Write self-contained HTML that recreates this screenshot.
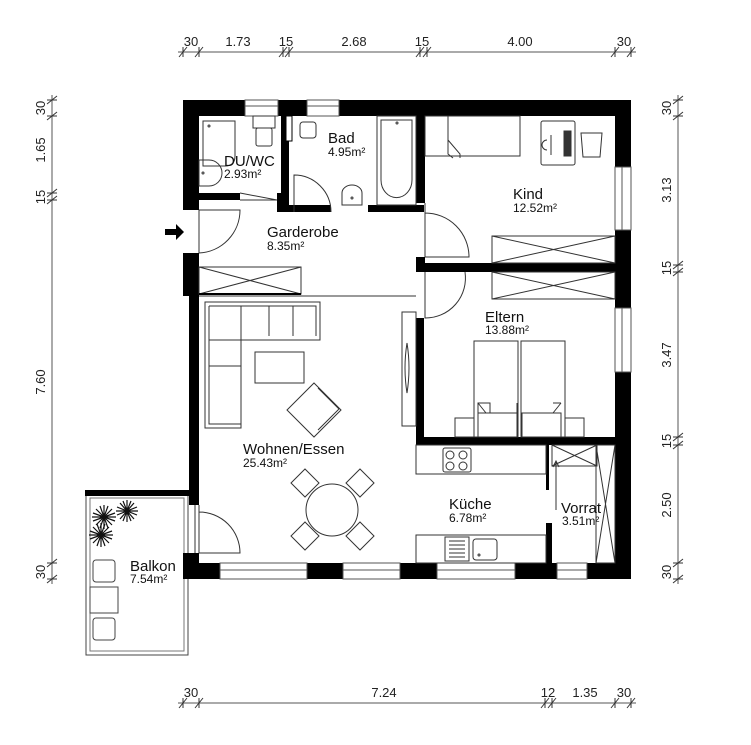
<!DOCTYPE html>
<html><head><meta charset="utf-8"><style>
html,body{margin:0;padding:0;background:#fff;}
svg{display:block;font-family:"Liberation Sans",sans-serif;}
</style></head><body>
<svg width="751" height="745" viewBox="0 0 751 745" xmlns="http://www.w3.org/2000/svg">
<rect width="751" height="745" fill="#fff"/>
<g stroke="#555" stroke-width="1" fill="none">
<line x1="178" y1="52" x2="636" y2="52"/>
<line x1="52" y1="95" x2="52" y2="584"/>
<line x1="678" y1="95" x2="678" y2="584"/>
<line x1="178" y1="703" x2="636" y2="703"/>
</g>
<g stroke="#333" stroke-width="1">
<path d="M179,57 l8,-10 M195,57 l8,-10 M279,57 l8,-10 M285,57 l8,-10 M416,57 l8,-10 M423,57 l8,-10 M611,57 l8,-10 M627,57 l8,-10"/>
<path d="M183,47 v10 M199,47 v10 M283,47 v10 M289,47 v10 M420,47 v10 M427,47 v10 M615,47 v10 M631,47 v10"/>
<path d="M179,708 l8,-10 M195,708 l8,-10 M541,708 l8,-10 M548,708 l8,-10 M611,708 l8,-10 M627,708 l8,-10"/>
<path d="M183,698 v10 M199,698 v10 M545,698 v10 M552,698 v10 M615,698 v10 M631,698 v10"/>
<path d="M47,104 l10,-8 M47,120 l10,-8 M47,197 l10,-8 M47,204 l10,-8 M47,567 l10,-8 M47,583 l10,-8"/>
<path d="M47,100 h10 M47,116 h10 M47,193 h10 M47,200 h10 M47,563 h10 M47,579 h10"/>
<path d="M673,104 l10,-8 M673,120 l10,-8 M673,269 l10,-8 M673,276 l10,-8 M673,441 l10,-8 M673,449 l10,-8 M673,567 l10,-8 M673,583 l10,-8"/>
<path d="M673,100 h10 M673,116 h10 M673,265 h10 M673,272 h10 M673,437 h10 M673,445 h10 M673,563 h10 M673,579 h10"/>
</g>
<g font-size="13" fill="#222" text-anchor="middle">
<text x="191" y="46">30</text><text x="238" y="46">1.73</text><text x="286" y="46">15</text><text x="354" y="46">2.68</text><text x="422" y="46">15</text><text x="520" y="46">4.00</text><text x="624" y="46">30</text>
<text x="191" y="697">30</text><text x="384" y="697">7.24</text><text x="548" y="697">12</text><text x="585" y="697">1.35</text><text x="624" y="697">30</text>
<text transform="translate(45,108) rotate(-90)">30</text>
<text transform="translate(45,150) rotate(-90)">1.65</text>
<text transform="translate(45,197) rotate(-90)">15</text>
<text transform="translate(45,382) rotate(-90)">7.60</text>
<text transform="translate(45,572) rotate(-90)">30</text>
<text transform="translate(671,108) rotate(-90)">30</text>
<text transform="translate(671,190) rotate(-90)">3.13</text>
<text transform="translate(671,268) rotate(-90)">15</text>
<text transform="translate(671,355) rotate(-90)">3.47</text>
<text transform="translate(671,441) rotate(-90)">15</text>
<text transform="translate(671,505) rotate(-90)">2.50</text>
<text transform="translate(671,572) rotate(-90)">30</text>
</g>

<rect x="86" y="495" width="102" height="160" fill="none" stroke="#444" stroke-width="1"/>
<rect x="90" y="498" width="94" height="153" fill="none" stroke="#777" stroke-width="1"/>
<rect x="85" y="490" width="106" height="6" fill="#000"/>
<g fill="none" stroke="#444" stroke-width="1">
<rect x="93" y="560" width="22" height="22" rx="3"/>
<rect x="90" y="587" width="28" height="26"/>
<rect x="93" y="618" width="22" height="22" rx="3"/>
</g>
<g stroke="#111" stroke-width="1.2">
<path d="M104,505 l0,24 M92,517 l24,0 M96,509 l16,16 M112,509 l-16,16 M100,506 l8,22 M108,506 l-8,22 M93,513 l22,8 M93,521 l22,-8"/>
<path d="M127,500 l0,22 M116,511 l22,0 M120,503 l14,16 M134,503 l-14,16 M123,501 l8,20 M131,501 l-8,20 M117,507 l20,8 M117,515 l20,-8"/>
<path d="M101,523 l0,24 M89,535 l24,0 M93,527 l16,16 M109,527 l-16,16 M97,524 l8,22 M105,524 l-8,22 M90,531 l22,8 M90,539 l22,-8"/>
</g>

<g fill="#000">
<rect x="183" y="100" width="448" height="16"/>
<rect x="615" y="100" width="16" height="479"/>
<rect x="183" y="563" width="448" height="16"/>
<rect x="183" y="100" width="16" height="110"/>
<rect x="183" y="253" width="16" height="43"/>
<rect x="189" y="296" width="10" height="209"/>
<rect x="183" y="553" width="16" height="26"/>
<rect x="199" y="193" width="41" height="7"/>
<rect x="277" y="193" width="6" height="19"/>
<rect x="281" y="100" width="8" height="112"/>
<rect x="281" y="205" width="50" height="7"/>
<rect x="368" y="205" width="56" height="7"/>
<rect x="416" y="100" width="9" height="103"/>
<rect x="416" y="257" width="9" height="15"/>
<rect x="416" y="263" width="199" height="9"/>
<rect x="416" y="318" width="8" height="127"/>
<rect x="416" y="437" width="199" height="8"/>
<rect x="546" y="445" width="3" height="45"/>
<rect x="546" y="523" width="6" height="40"/>
</g>
<g fill="#fff" stroke="#555" stroke-width="1">
<rect x="245" y="100" width="33" height="16"/>
<rect x="307" y="100" width="32" height="16"/>
<rect x="220" y="563" width="87" height="16"/>
<rect x="343" y="563" width="57" height="16"/>
<rect x="437" y="563" width="78" height="16"/>
<rect x="557" y="563" width="30" height="16"/>
<rect x="615" y="167" width="16" height="63"/>
<rect x="615" y="308" width="16" height="64"/>
</g>
<g stroke="#555" stroke-width="1">
<path d="M245,106 h33 M307,106 h32 M220,570 h87 M343,570 h57 M437,570 h78 M557,570 h30 M622,167 v63 M622,308 v64"/>
</g>
<g stroke="#333" stroke-width="1" fill="none">
<line x1="199" y1="296" x2="416" y2="296"/>
<rect x="199" y="267" width="102" height="27"/>
<path d="M199,267 L301,294 M199,294 L301,267"/>
<line x1="199" y1="294" x2="301" y2="294" stroke="#000" stroke-width="2"/>
<rect x="492" y="236" width="123" height="27"/>
<path d="M492,236 L615,263 M492,263 L615,236"/>
<rect x="492" y="272" width="123" height="27"/>
<path d="M492,272 L615,299 M492,299 L615,272"/>
<path d="M199,210 v43 M199,253 a43,43 0 0 0 41,-43 h-41"/>
<path d="M294,212 v-37 a37,37 0 0 1 37,37"/>
<path d="M425,203 v54 M425,213 a44,44 0 0 1 44,44 h-44"/>
<path d="M425,272 v46 a40,40 0 0 0 40,-46"/>
<path d="M240,193 l37,7 M240,200 h37"/>
<path d="M199,505 v48 M199,512 a41,41 0 0 1 41,41 h-41 M195,505 v48"/>
<path d="M203,121 h32 v35 q0,10 -10,10 h-22 z"/><circle cx="209" cy="126" r="1"/>
<rect x="253" y="116" width="22" height="12"/><rect x="256" y="128" width="16" height="18" rx="2"/>
<path d="M199,160 h10 a10,10 0 0 1 0,26 h-10 z"/><circle cx="203" cy="173" r="1"/>
<rect x="286" y="116" width="6" height="25" fill="#fff" stroke="#000"/>
<rect x="300" y="122" width="16" height="16" rx="3"/>
<path d="M342,205 v-12 a10,8 0 0 1 20,0 v12 z"/><circle cx="352" cy="198" r="1"/>
<rect x="377" y="116" width="39" height="89"/>
<path d="M381,120 h31 v60 a15,17 0 0 1 -31,0 z"/><circle cx="397" cy="123" r="1"/>
<rect x="425" y="116" width="95" height="40"/>
<path d="M448,116 v38 l5,4 M448,140 l12,14 v4"/>
<rect x="541" y="121" width="34" height="44" rx="2"/>
<rect x="564" y="131" width="7" height="25" fill="#333"/>
<path d="M551,135 v20 M547,140 a4,4 0 0 0 0,10"/>
<path d="M581,133 h21 l-2,24 h-17 z"/>
<rect x="474" y="341" width="44" height="96"/>
<rect x="521" y="341" width="44" height="96"/>
<path d="M478,403 h12 v10 h-12 z M478,403 v34 M517,403 v34"/>
<rect x="478" y="413" width="39" height="24"/>
<rect x="522" y="413" width="39" height="24"/>
<path d="M478,403 l8,10 M561,403 l-8,10 M478,403 h8 M561,403 h-8"/>
<rect x="455" y="418" width="19" height="19"/><rect x="565" y="418" width="19" height="19"/>
<rect x="402" y="312" width="14" height="114"/>
<path d="M407,343 q4,25 0,50 q-4,-25 0,-50"/>
<rect x="416" y="445" width="130" height="29"/>
<rect x="443" y="448" width="28" height="24" rx="2"/>
<circle cx="450" cy="455" r="4"/><circle cx="463" cy="455" r="4"/><circle cx="450" cy="466" r="4"/><circle cx="463" cy="466" r="4"/>
<rect x="416" y="535" width="130" height="28"/>
<rect x="445" y="537" width="24" height="24"/>
<path d="M449,541 h16 M449,545 h16 M449,549 h16 M449,553 h16 M449,557 h16"/>
<rect x="473" y="539" width="24" height="21" rx="3"/><circle cx="479" cy="555" r="1"/>
<path d="M556,510 v-48 M553,467 l3,-6 l3,6"/>
<rect x="552" y="445" width="45" height="21"/>
<path d="M552,445 L597,466 M552,466 L597,445"/>
<rect x="596" y="445" width="19" height="118"/>
<path d="M596,445 L615,563 M596,563 L615,445"/>
<path d="M205,302 h115 v38 h-79 v88 h-36 z M209,306 h107 v30 M241,306 v34 M269,306 v30 M293,306 v30 M209,340 h32 M209,366 h32 M209,306 v118 h32"/>
<rect x="255" y="352" width="49" height="31"/>
<path d="M314,383 l27,27 l-27,27 l-27,-27 z M318,388 l21,21 l-21,21"/>
<circle cx="332" cy="510" r="26"/>
<path d="M305,469 l14,14 l-14,14 l-14,-14 z M360,469 l14,14 l-14,14 l-14,-14 z M305,522 l14,14 l-14,14 l-14,-14 z M360,522 l14,14 l-14,14 l-14,-14 z"/>
</g>
<path d="M165,229 h11 v-5 l8,8 l-8,8 v-5 h-11 z" fill="#000"/>
<g fill="#111">
<text x="224" y="166" font-size="15">DU/WC</text><text x="224" y="178" font-size="12">2.93m²</text>
<text x="328" y="143" font-size="15">Bad</text><text x="328" y="156" font-size="12">4.95m²</text>
<text x="513" y="199" font-size="15">Kind</text><text x="513" y="212" font-size="12">12.52m²</text>
<text x="267" y="237" font-size="15">Garderobe</text><text x="267" y="250" font-size="12">8.35m²</text>
<text x="485" y="322" font-size="15">Eltern</text><text x="485" y="334" font-size="12">13.88m²</text>
<text x="243" y="454" font-size="15">Wohnen/Essen</text><text x="243" y="467" font-size="12">25.43m²</text>
<text x="449" y="509" font-size="15">Küche</text><text x="449" y="522" font-size="12">6.78m²</text>
<text x="561" y="513" font-size="15">Vorrat</text><text x="562" y="525" font-size="12">3.51m²</text>
<text x="130" y="571" font-size="15">Balkon</text><text x="130" y="583" font-size="12">7.54m²</text>
</g>
</svg>
</body></html>
